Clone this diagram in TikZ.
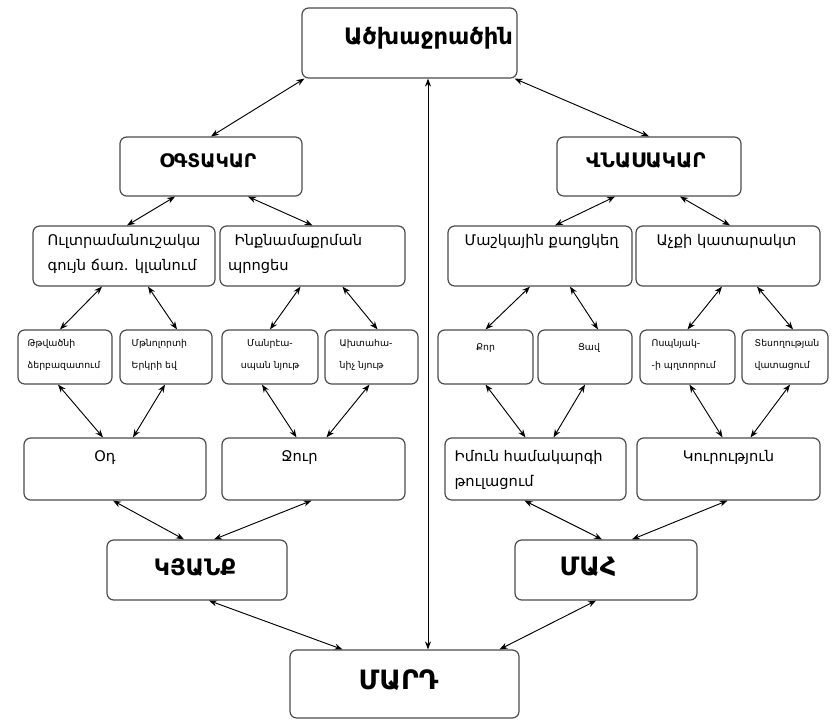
\documentclass[tikz,border=0pt]{standalone}
\usepackage{fontspec}
\setmainfont{DejaVu Sans}
\usetikzlibrary{arrows.meta,calc,fit}
\begin{document}
\begin{tikzpicture}[x=0.75pt,y=-0.75pt,
  box/.style={draw=black!70,line width=0.9pt,rounded corners=5pt,inner sep=0pt},
  arr/.style={{Stealth[length=6pt,width=4.5pt]}-{Stealth[length=6pt,width=4.5pt]},line width=0.7pt},
  big/.style={font=\fontsize{17}{20}\selectfont\bfseries,inner sep=0pt},
  capl/.style={font=\fontsize{15}{18}\selectfont\bfseries,inner sep=0pt},
  mid/.style={font=\fontsize{11}{18.5}\selectfont,inner sep=0pt,align=left,anchor=north west},
  sml/.style={font=\fontsize{7}{16.5}\selectfont,inner sep=0pt,align=left,anchor=north west},
  smc/.style={font=\fontsize{7}{16.5}\selectfont,inner sep=0pt,align=center,anchor=north}]
\useasboundingbox (0,0) rectangle (838,725);
\fill[white] (0,0) rectangle (838,725);
% boxes
\node[box,fit={(302,8) (517,78)}] (top) {};
\node[box,fit={(120,137) (302,196)}] (oga) {};
\node[box,fit={(557,137) (741,196)}] (vna) {};
\node[box,fit={(33,226) (215,286)}] (a) {};
\node[box,fit={(220,226) (405,286)}] (b) {};
\node[box,fit={(448,226) (632,286)}] (c) {};
\node[box,fit={(636,226) (820,286)}] (d) {};
\node[box,fit={(18,330) (112,384)}] (l1) {};
\node[box,fit={(120,330) (212,384)}] (l2) {};
\node[box,fit={(222,330) (318,384)}] (l3) {};
\node[box,fit={(325,330) (418,384)}] (l4) {};
\node[box,fit={(438,330) (533,384)}] (r1) {};
\node[box,fit={(538,330) (632,384)}] (r2) {};
\node[box,fit={(640,330) (735,384)}] (r3) {};
\node[box,fit={(742,330) (828,384)}] (r4) {};
\node[box,fit={(24,438) (206,500)}] (od) {};
\node[box,fit={(222,438) (405,500)}] (jur) {};
\node[box,fit={(445,438) (626,500)}] (imun) {};
\node[box,fit={(637,438) (820,500)}] (kur) {};
\node[box,fit={(107,540) (287,600)}] (kyank) {};
\node[box,fit={(515,540) (697,600)}] (mah) {};
\node[box,fit={(290,650) (519,718)}] (mard) {};
% texts
\node[big] (topt) at ($(top.center)+(19,-5)$) {Ածխաջրածին};
\node[capl,font=\fontsize{14}{18}\selectfont\bfseries] (ogat) at ($(oga.center)+(-3,-6)$) {ՕԳՏԱԿԱՐ};
\node[capl] (vnat) at ($(vna.center)+(-3,-6)$) {ՎՆԱՍԱԿԱՐ};
\node[mid] (at) at ($(a.north west)+(15,9)$) {Ուլտրամանուշակա\\գույն ճառ. կլանում};
\node[mid] (bt) at ($(b.north west)+(15,9)$) {Ինքնամաքրման\\\hspace*{-5pt}պրոցես};
\node[mid] (ct) at ($(c.north west)+(17,9)$) {Մաշկային քաղցկեղ};
\node[mid] (dt) at ($(d.north west)+(21,9)$) {Աչքի կատարակտ};
\node[sml] (l1t) at ($(l1.north west)+(10,10)$) {Թթվածնի\\ձերբազատում};
\node[sml] (l2t) at ($(l2.north west)+(12,10)$) {Մթնոլորտի\\Երկրի եվ};
\node[smc] (l3t) at ($(l3.north)+(0,10)$) {Մանրէա-\\սպան նյութ};
\node[sml] (l4t) at ($(l4.north west)+(15,10)$) {Ախտահա-\\նիչ նյութ};
\node[smc] (r1t) at ($(r1.north)+(0,14)$) {Քոր};
\node[smc] (r2t) at ($(r2.north)+(4,14)$) {Ցավ};
\node[sml] (r3t) at ($(r3.north west)+(12,10)$) {Ոսպնյակ-\\-ի պղտորում};
\node[sml] (r4t) at ($(r4.north west)+(13,10)$) {Տեսողության\\վատացում};
\node[mid,anchor=north] (odt) at ($(od.north)+(-10,13)$) {Օդ};
\node[mid,anchor=north] (jurt) at ($(jur.north)+(-14,13)$) {Ջուր};
\node[mid] (imunt) at ($(imun.north west)+(10,13)$) {Իմուն համակարգի\\թուլացում};
\node[mid,anchor=north] (kurt) at ($(kur.north)+(0,13)$) {Կուրություն};
\node[big] (kyankt) at ($(kyank.center)+(-2,-3)$) {ԿՅԱՆՔ};
\node[big,font=\fontsize{19}{22}\selectfont\bfseries] (maht) at ($(mah.center)+(-18,-3)$) {ՄԱՀ};
\node[big,font=\fontsize{20}{24}\selectfont\bfseries] (mardt) at ($(mard.center)+(-6,-4)$) {ՄԱՐԴ};
% arrows
\draw[arr] ($(top.south west)+(3,0)$) -- (oga.north);
\draw[arr] ($(top.south east)+(-3,0)$) -- (vna.north);
\draw[arr] ($(mard.north)+(23.5,0)$) -- ($(top.south)+(18.5,0)$);
\draw[arr] ($(oga.south)+(-36,0)$) -- ($(a.north)+(3,0)$);
\draw[arr] ($(oga.south)+(37,0)$) -- ($(b.north)+(0,0)$);
\draw[arr] ($(vna.south)+(-34,0)$) -- ($(c.north)+(15,0)$);
\draw[arr] ($(vna.south)+(31,0)$) -- ($(d.north)+(2,0)$);
\draw[arr] ($(a.south)+(-22,0)$) -- ($(l1.north)+(-5,0)$);
\draw[arr] ($(a.south)+(24,0)$) -- ($(l2.north)+(11,0)$);
\draw[arr] ($(b.south)+(-12,0)$) -- ($(l3.north)+(0,0)$);
\draw[arr] ($(b.south)+(30,0)$) -- ($(l4.north)+(6,0)$);
\draw[arr] ($(c.south)+(-10,0)$) -- ($(r1.north)+(0,0)$);
\draw[arr] ($(c.south)+(30,0)$) -- ($(r2.north)+(13,0)$);
\draw[arr] ($(d.south)+(-6,0)$) -- ($(r3.north)+(0,0)$);
\draw[arr] ($(d.south)+(29,0)$) -- ($(r4.north)+(8,0)$);
\draw[arr] ($(l1.south)+(-7,0)$) -- ($(od.north)+(-12,0)$);
\draw[arr] ($(l2.south)+(-1,0)$) -- ($(od.north)+(18,0)$);
\draw[arr] ($(l3.south)+(-8,0)$) -- ($(jur.north)+(-17,0)$);
\draw[arr] ($(l4.south)+(-2,0)$) -- ($(jur.north)+(13,0)$);
\draw[arr] ($(r1.south)+(0,0)$) -- ($(imun.north)+(-10,0)$);
\draw[arr] ($(r2.south)+(0,0)$) -- ($(imun.north)+(18,0)$);
\draw[arr] ($(r3.south)+(2,0)$) -- ($(kur.north)+(-6,0)$);
\draw[arr] ($(r4.south)+(5,0)$) -- ($(kur.north)+(22,0)$);
\draw[arr] ($(od.south)+(-2,0)$) -- ($(kyank.north)+(-13,0)$);
\draw[arr] ($(jur.south)+(-2,0)$) -- ($(kyank.north)+(17,0)$);
\draw[arr] ($(imun.south)+(-11,0)$) -- ($(mah.north)+(-4,0)$);
\draw[arr] ($(kur.south)+(-1,0)$) -- ($(mah.north)+(26,0)$);
\draw[arr] ($(kyank.south)+(12,0)$) -- ($(mard.north)+(-62,0)$);
\draw[arr] ($(mah.south)+(-10,0)$) -- ($(mard.north)+(95,0)$);
\end{tikzpicture}
\end{document}
